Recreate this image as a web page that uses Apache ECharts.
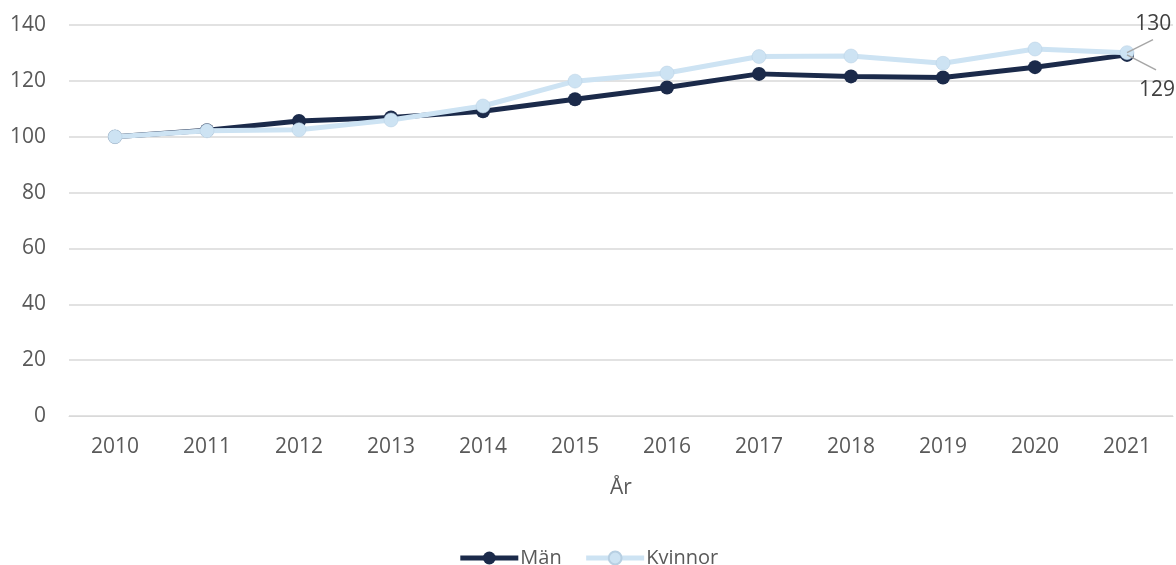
<!DOCTYPE html>
<html><head><meta charset="utf-8">
<script src="https://cdn.jsdelivr.net/npm/echarts@6/dist/echarts.min.js"></script>
<style>html,body{margin:0;padding:0;background:#fff}#c{width:1176px;height:565px}</style>
</head><body><div id="c"></div>
<script>
const years = ['2010','2011','2012','2013','2014','2015','2016','2017','2018','2019','2020','2021'];
const man = [100, 102.3, 105.6, 106.9, 109.1, 113.4, 117.6, 122.5, 121.6, 121.2, 124.9, 129.3];
const kvinnor = [100, 102.1, 102.5, 106.0, 111.0, 119.9, 122.8, 128.7, 128.9, 126.3, 131.4, 130.1];
const yTicks = [0, 20, 40, 60, 80, 100, 120, 140];

const font = 'Open Sans';
function withEndLabel(arr) {
  return arr.map((v, i) => i === arr.length - 1 ? {
    value: v,
    label: {show: true, position: 'right', fontSize: 21, color: '#404040', formatter: p => Math.round(p.value)}
  } : v);
}
function endLayout(n, dx, dy) {
  return p => p.dataIndex === n - 1 ? {dx: dx, dy: dy} : {};
}
const chart = echarts.init(document.getElementById('c'));
chart.setOption({
  animation: false,
  textStyle: {fontFamily: font},
  grid: {left: 69, right: 3, top: 25, bottom: 149},
  legend: {
    top: 543, left: 'center', itemWidth: 58, itemHeight: 16, itemGap: 22,
    lineStyle: {width: 5},
    textStyle: {fontSize: 20, color: '#595959', fontFamily: font, padding: [0, 0, 0, -3]},
    data: ['Män', 'Kvinnor']
  },
  xAxis: {
    type: 'category', data: years, boundaryGap: true,
    name: 'År', nameLocation: 'middle', nameGap: 62,
    nameTextStyle: {fontSize: 21, color: '#595959'},
    axisLine: {lineStyle: {color: '#d9d9d9', width: 1}},
    axisTick: {show: false},
    axisLabel: {fontSize: 21, color: '#595959', margin: 21}
  },
  yAxis: {
    type: 'value', min: yTicks[0], max: yTicks[yTicks.length-1], interval: 20,
    axisLine: {show: false}, axisTick: {show: false},
    axisLabel: {fontSize: 21, color: '#595959', margin: 23},
    splitLine: {lineStyle: {color: '#d9d9d9', width: 1.5}}
  },
  series: [
    {
      name: 'Män', type: 'line', data: withEndLabel(man),
      symbol: 'circle', symbolSize: 14,
      lineStyle: {color: '#1b2a4a', width: 5},
      itemStyle: {color: '#1b2a4a'},
      labelLayout: endLayout(man.length, 0, 35),
      z: 2
    },
    {
      name: 'Kvinnor', type: 'line', data: withEndLabel(kvinnor),
      symbol: 'circle', symbolSize: 14,
      lineStyle: {color: '#cde3f3', width: 5},
      itemStyle: {color: '#cde3f3', borderColor: '#b7cfe2', borderWidth: 0.5},
      labelLayout: endLayout(kvinnor.length, -4, -29),
      z: 3
    }
  ]
});
// leader lines from the last points, placed via the chart's own scales
const last = years.length - 1;
const pK = chart.convertToPixel({seriesIndex: 1}, [last, kvinnor[last]]);
const pM = chart.convertToPixel({seriesIndex: 0}, [last, man[last]]);
chart.setOption({
  graphic: [
    {type: 'line', z: 10, shape: {x1: pK[0], y1: pK[1], x2: pK[0] + 26, y2: pK[1] - 13},
     style: {stroke: '#a6a6a6', lineWidth: 1.5}},
    {type: 'line', z: 10, shape: {x1: pM[0], y1: pM[1], x2: pM[0] + 29, y2: pM[1] + 15},
     style: {stroke: '#a6a6a6', lineWidth: 1.5}}
  ]
});
</script></body></html>
